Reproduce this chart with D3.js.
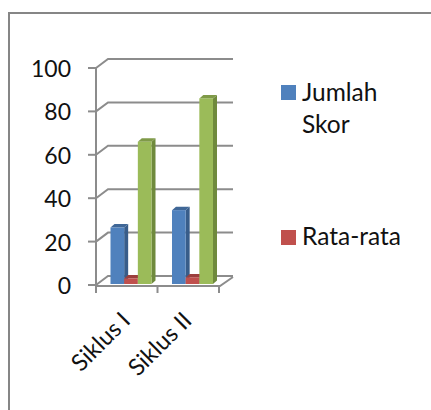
<!DOCTYPE html>
<html>
<head>
<meta charset="utf-8">
<script src="https://cdn.jsdelivr.net/npm/d3@7"></script>
<style>
  html, body { margin: 0; background: #fff; }
  svg { display: block; font-family: Lato, sans-serif; }
</style>
</head>
<body>
<div id="chart"></div>
<script>
const categories = ["Siklus I", "Siklus II"];
const jumlahSkor = [26.5, 34.5];
const rataRata = [3, 3.5];
const ketiga = [66, 86];
const yTicks = [0, 20, 40, 60, 80, 100];

const width = 431, height = 410;
const depthX = 12, depthY = 9;   // how far the back wall is shifted
const barDepthX = 4, barDepthY = 3.5;
const tickFont = 23, labelFont = 23.5, legendFont = 24.5;

const svg = d3.select("#chart").append("svg")
  .attr("width", width)
  .attr("height", height);

// outer frame, only left and top are in the crop
svg.append("path")
  .attr("d", "M9,410V13H431")
  .attr("fill", "none")
  .attr("stroke", "#868686")
  .attr("stroke-width", 2);

const x = d3.scaleBand().domain(categories).range([96, 219]);
const y = d3.scaleLinear().domain([0, 100]).range([285, 68]);
const xBar = d3.scaleBand().domain([0, 1, 2]).range([14.5, 55.5]);

const axisColor = "#8c8c8c";
const grid = svg.append("g").attr("fill", "none").attr("stroke", axisColor).attr("stroke-width", 2);

// gridlines on the back wall and the little slanted bit on the side wall
yTicks.forEach(t => {
  grid.append("path")
    .attr("d", `M${x.range()[0]},${y(t)}l${depthX},${-depthY}H233`);
});

// floor front and right edge, y axis
grid.append("path").attr("d", `M${x.range()[0]},${y(0) + 1}H220l13,-9`);
grid.append("path").attr("d", `M${x.range()[0]},${y(100)}V${y(0) + 8}`);

// axis ticks
yTicks.forEach(t => {
  grid.append("line").attr("x1", 88).attr("x2", 96).attr("y1", y(t)).attr("y2", y(t));
});
[0, 1, 2].forEach(i => {
  const px = i < 2 ? x(categories[i]) : x.range()[1];
  grid.append("line").attr("x1", px).attr("x2", px).attr("y1", y(0)).attr("y2", y(0) + 8);
});

// one 3d bar: front, top and side faces
function bar(g, px, w, value, front, top, side) {
  const py = y(value), base = y(0) - 1;
  g.append("path").attr("fill", side)
    .attr("d", `M${px + w},${py}l${barDepthX},${-barDepthY}V${base - barDepthY}l${-barDepthX},${barDepthY}Z`);
  g.append("path").attr("fill", top)
    .attr("d", `M${px},${py}l${barDepthX},${-barDepthY}h${w}l${-barDepthX},${barDepthY}Z`);
  g.append("rect").attr("x", px).attr("y", py).attr("width", w).attr("height", base - py).attr("fill", front);
}

const bars = svg.append("g");
categories.forEach((c, i) => {
  const g = bars.append("g");
  const left = x(c);
  bar(g, left + xBar(0), xBar.bandwidth(), jumlahSkor[i], "#4f81bd", "#3f6797", "#385d8a");
  bar(g, left + xBar(1), xBar.bandwidth(), rataRata[i], "#c0504d", "#9c3f3d", "#8c3a38");
  bar(g, left + xBar(2), xBar.bandwidth(), ketiga[i], "#9bbb59", "#7f9a48", "#6f8a3d");
});

// y tick labels
svg.append("g").selectAll("text").data(yTicks).join("text")
  .attr("x", 71).attr("y", d => y(d) + 9)
  .attr("text-anchor", "end").attr("font-size", tickFont).attr("fill", "#111")
  .text(d => d);

// rotated category labels
svg.append("g").selectAll("text").data(categories).join("text")
  .attr("transform", d => `translate(${x(d) + x.bandwidth() / 2 + 5},322) rotate(-45)`)
  .attr("text-anchor", "end").attr("font-size", labelFont).attr("fill", "#111")
  .text(d => d);

// legend, third entry is cut off in the picture
const legend = svg.append("g").attr("font-size", legendFont).attr("fill", "#111");
legend.append("rect").attr("x", 281).attr("y", 85).attr("width", 15).attr("height", 15).attr("fill", "#4f81bd");
legend.append("text").attr("x", 302).attr("y", 101).text("Jumlah");
legend.append("text").attr("x", 302).attr("y", 133).text("Skor");
legend.append("rect").attr("x", 281).attr("y", 230).attr("width", 15).attr("height", 15).attr("fill", "#c0504d");
legend.append("text").attr("x", 302).attr("y", 245).text("Rata-rata");
</script>
</body>
</html>
